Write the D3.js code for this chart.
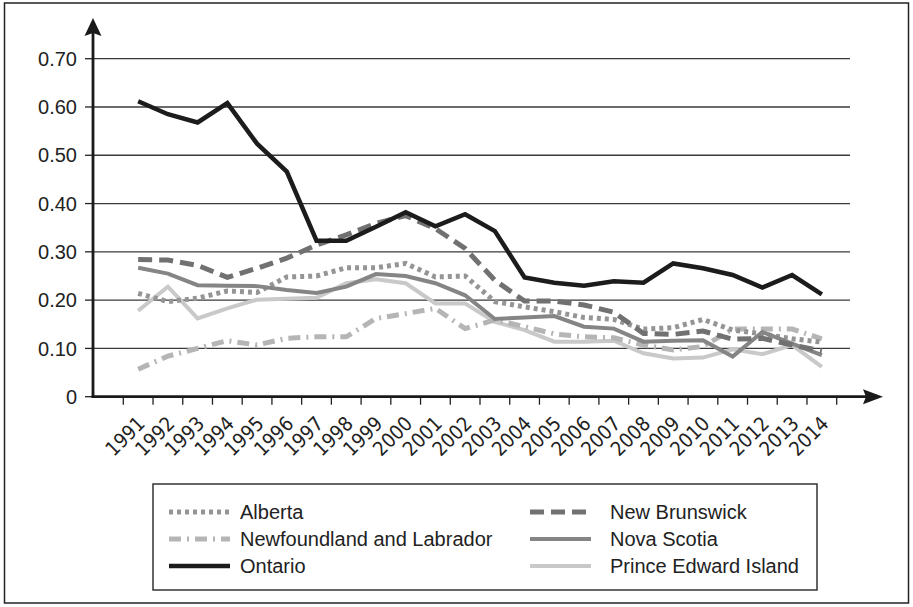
<!DOCTYPE html>
<html lang="en">
<head>
  <meta charset="UTF-8">
  <title>Provinces 1991-2014</title>
  <script src="https://d3js.org/d3.v7.min.js"></script>
  <style>
    body { margin: 0; background: #fff; }
    svg { display: block; font-family: "Liberation Sans", Arial, sans-serif; }
    .xlab { font-family: "Liberation Sans Narrow", "Arial Narrow", "DejaVu Sans Condensed", sans-serif; }
  </style>
</head>
<body>
  <svg width="913" height="607"></svg>

  <script>
    const years = ["1991","1992","1993","1994","1995","1996","1997","1998","1999","2000","2001","2002",
                   "2003","2004","2005","2006","2007","2008","2009","2010","2011","2012","2013","2014"];
    const yTicks = [0, 0.1, 0.2, 0.3, 0.4, 0.5, 0.6, 0.7];

    const alberta      = [0.214,0.197,0.204,0.219,0.216,0.248,0.250,0.267,0.267,0.276,0.248,0.250,0.197,0.186,0.176,0.164,0.160,0.140,0.143,0.160,0.138,0.130,0.120,0.113];
    const newfoundland = [0.057,0.084,0.100,0.116,0.107,0.121,0.124,0.124,0.162,0.172,0.183,0.141,0.159,0.145,0.130,0.124,0.122,0.107,0.097,0.104,0.140,0.140,0.140,0.120];
    const ontario      = [0.612,0.585,0.568,0.608,0.524,0.466,0.323,0.323,0.352,0.382,0.353,0.378,0.343,0.247,0.236,0.230,0.239,0.236,0.276,0.266,0.252,0.226,0.252,0.212];
    const newBrunswick = [0.284,0.283,0.272,0.247,0.266,0.287,0.314,0.335,0.359,0.375,0.348,0.307,0.241,0.198,0.198,0.190,0.175,0.131,0.129,0.136,0.119,0.121,0.107,0.095];
    const novaScotia   = [0.267,0.255,0.231,0.230,0.229,0.221,0.215,0.228,0.254,0.250,0.235,0.210,0.161,0.164,0.167,0.145,0.141,0.114,0.116,0.117,0.083,0.134,0.110,0.086];
    const pei          = [0.178,0.228,0.162,0.183,0.201,0.203,0.205,0.235,0.243,0.235,0.193,0.193,0.155,0.138,0.114,0.114,0.116,0.090,0.079,0.081,0.098,0.088,0.107,0.062];

    const series = [
      { name: "Prince Edward Island",      values: pei,          color: "#c9c9c9", width: 4,   dash: null },
      { name: "Newfoundland and Labrador", values: newfoundland, color: "#b5b5b5", width: 5,   dash: "12,6,2,6" },
      { name: "Alberta",                   values: alberta,      color: "#959595", width: 5,   dash: "4,4" },
      { name: "Nova Scotia",               values: novaScotia,   color: "#858585", width: 4,   dash: null },
      { name: "New Brunswick",             values: newBrunswick, color: "#717171", width: 5,   dash: "14,7" },
      { name: "Ontario",                   values: ontario,      color: "#1c1c1c", width: 4.5, dash: null }
    ];

    const svg = d3.select("svg");

    // outer frame
    svg.append("rect")
      .attr("x", 4.5).attr("y", 3)
      .attr("width", 904).attr("height", 600)
      .attr("fill", "#fff")
      .attr("stroke", "#222")
      .attr("stroke-width", 1.5);

    const axisX = 93;
    const xScale = d3.scaleBand().domain(years).range([123.3, 836.7]);
    const yScale = d3.scaleLinear().domain([0, 0.7]).range([396.7, 58.7]);

    // grid lines
    svg.append("g").selectAll("line")
      .data(yTicks.filter(d => d > 0))
      .join("line")
      .attr("x1", axisX).attr("x2", 850)
      .attr("y1", d => yScale(d)).attr("y2", d => yScale(d))
      .attr("stroke", "#3a3a3a")
      .attr("stroke-width", 1.3);

    // y ticks and labels
    const yg = svg.append("g");
    yg.selectAll("line")
      .data(yTicks)
      .join("line")
      .attr("x1", axisX - 8).attr("x2", axisX)
      .attr("y1", d => yScale(d)).attr("y2", d => yScale(d))
      .attr("stroke", "#222")
      .attr("stroke-width", 1.3);
    yg.selectAll("text")
      .data(yTicks)
      .join("text")
      .attr("x", axisX - 16)
      .attr("y", d => yScale(d))
      .attr("dy", "0.36em")
      .attr("text-anchor", "end")
      .attr("font-size", 20)
      .attr("fill", "#222")
      .text(d => d === 0 ? "0" : d.toFixed(2));

    // x ticks at band edges, labels at band centres
    const edges = years.map(y => xScale(y)).concat([xScale.range()[1]]);
    svg.append("g").selectAll("line")
      .data(edges)
      .join("line")
      .attr("x1", d => d).attr("x2", d => d)
      .attr("y1", yScale(0)).attr("y2", yScale(0) + 8)
      .attr("stroke", "#222")
      .attr("stroke-width", 1.3);
    svg.append("g").selectAll("text")
      .data(years)
      .join("text")
      .attr("class", "xlab")
      .attr("transform", d => `translate(${xScale(d) + xScale.bandwidth() / 2 + 8},425) rotate(-45)`)
      .attr("text-anchor", "end")
      .attr("font-size", 20)
      .attr("fill", "#222")
      .text(d => d);

    // series lines
    const line = d3.line()
      .x((d, i) => xScale(years[i]) + xScale.bandwidth() / 2)
      .y(d => yScale(d));

    svg.append("g").selectAll("path")
      .data(series)
      .join("path")
      .attr("d", d => line(d.values))
      .attr("fill", "none")
      .attr("stroke", d => d.color)
      .attr("stroke-width", d => d.width)
      .attr("stroke-dasharray", d => d.dash)
      .attr("stroke-linejoin", "miter");

    // axes with arrows
    svg.append("line")
      .attr("x1", axisX).attr("x2", axisX)
      .attr("y1", yScale(0) + 1.2).attr("y2", 30)
      .attr("stroke", "#1a1a1a").attr("stroke-width", 2.8);
    svg.append("path")
      .attr("d", `M${axisX},18 L${axisX + 8.5},36 L${axisX},33 L${axisX - 8.5},36 Z`)
      .attr("fill", "#1a1a1a");

    svg.append("line")
      .attr("x1", axisX - 1.4).attr("x2", 872)
      .attr("y1", yScale(0)).attr("y2", yScale(0))
      .attr("stroke", "#1a1a1a").attr("stroke-width", 2.8);
    svg.append("path")
      .attr("d", `M883,${yScale(0)} L863,${yScale(0) - 7.5} L866,${yScale(0)} L863,${yScale(0) + 7.5} Z`)
      .attr("fill", "#1a1a1a");

    // legend
    const legendOrder = ["Alberta", "New Brunswick", "Newfoundland and Labrador", "Nova Scotia", "Ontario", "Prince Edward Island"];
    svg.append("rect")
      .attr("x", 153).attr("y", 484)
      .attr("width", 664).attr("height", 106)
      .attr("fill", "#fff")
      .attr("stroke", "#333")
      .attr("stroke-width", 1.5);

    const items = svg.append("g").selectAll("g")
      .data(legendOrder.map(n => series.find(s => s.name === n)))
      .join("g")
      .attr("transform", (d, i) => `translate(${i % 2 === 0 ? 169 : 530},${512 + Math.floor(i / 2) * 27})`);
    items.append("line")
      .attr("x1", 0).attr("x2", 61)
      .attr("stroke", d => d.color)
      .attr("stroke-width", d => d.width)
      .attr("stroke-dasharray", d => d.dash);
    items.append("text")
      .attr("x", (d, i) => i % 2 === 0 ? 71 : 80)
      .attr("dy", "0.36em")
      .attr("font-size", 20)
      .attr("fill", "#222")
      .text(d => d.name);
  </script>
</body>
</html>
